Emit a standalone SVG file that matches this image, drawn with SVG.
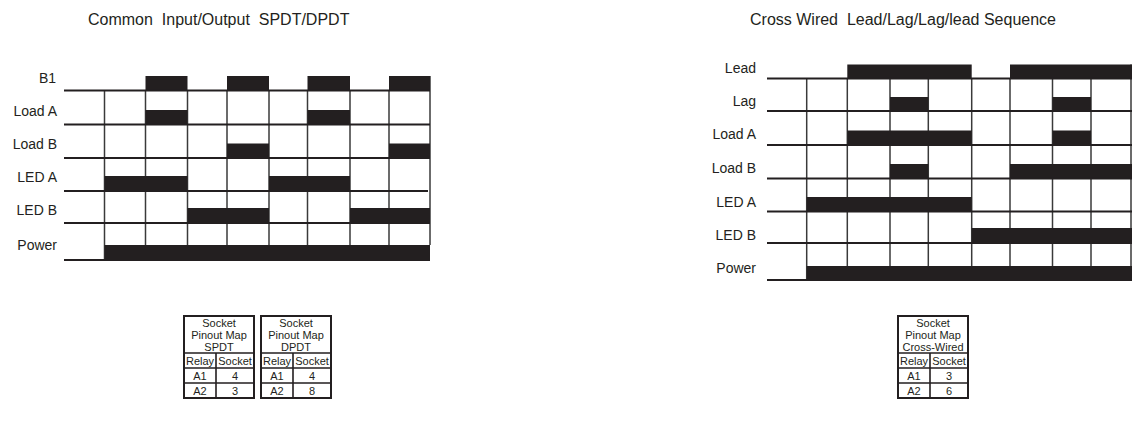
<svg xmlns="http://www.w3.org/2000/svg" width="1134" height="429" viewBox="0 0 1134 429">
<style>
text{font-family:"Liberation Sans",Arial,sans-serif;fill:#231f20}
.title{font-size:16px;white-space:pre}
.lbl{font-size:14px;text-anchor:end}
.tb{font-size:11px;text-anchor:middle}
.base{stroke:#231f20;stroke-width:2;fill:none}
.vert{stroke:#3a3a3a;stroke-width:1.5;fill:none}
.blk{fill:#231f20}
.tbl{stroke:#231f20;stroke-width:2;fill:#fff}
.tln{stroke:#231f20;stroke-width:1.6;fill:none}
</style>
<rect width="1134" height="429" fill="#fff"/>
<text class="title" x="88" y="25">Common  Input/Output  SPDT/DPDT</text>
<text class="title" x="750" y="25">Cross Wired  Lead/Lag/Lag/lead Sequence</text>

<g id="chart-left">
<g class="labels">
<text class="lbl" x="56" y="83">B1</text>
<text class="lbl" x="57" y="116">Load A</text>
<text class="lbl" x="57" y="149">Load B</text>
<text class="lbl" x="57" y="182">LED A</text>
<text class="lbl" x="57" y="215">LED B</text>
<text class="lbl" x="57" y="250">Power</text>
</g>
<g class="vert">
<line x1="104.5" y1="90.5" x2="104.5" y2="260"/>
<line x1="145.5" y1="90.5" x2="145.5" y2="245"/>
<line x1="187.5" y1="90.5" x2="187.5" y2="245"/>
<line x1="227" y1="90.5" x2="227" y2="245"/>
<line x1="269" y1="90.5" x2="269" y2="245"/>
<line x1="307.5" y1="90.5" x2="307.5" y2="245"/>
<line x1="350" y1="90.5" x2="350" y2="245"/>
<line x1="389" y1="90.5" x2="389" y2="245"/>
<line x1="430" y1="76" x2="430" y2="245"/>
</g>
<g class="blk">
<rect x="145.5" y="76" width="42" height="14.5"/>
<rect x="227" y="76" width="42" height="14.5"/>
<rect x="307.5" y="76" width="42.5" height="14.5"/>
<rect x="389" y="76" width="41" height="14.5"/>
<rect x="145.5" y="110" width="42" height="14.5"/>
<rect x="307.5" y="110" width="42.5" height="14.5"/>
<rect x="227" y="143.5" width="42" height="14.5"/>
<rect x="389" y="143.5" width="41" height="14.5"/>
<rect x="104.5" y="176" width="83" height="15"/>
<rect x="269" y="176" width="81" height="15"/>
<rect x="187.5" y="208" width="81.5" height="15"/>
<rect x="350" y="208" width="80" height="15"/>
<rect x="104.5" y="245" width="325.5" height="15"/>
</g>
<g class="base">
<line x1="64" y1="90.5" x2="430" y2="90.5"/>
<line x1="64" y1="124.5" x2="430" y2="124.5"/>
<line x1="64" y1="158" x2="430" y2="158"/>
<line x1="64" y1="191" x2="428" y2="191"/>
<line x1="64" y1="223" x2="430" y2="223"/>
<line x1="64" y1="260" x2="430" y2="260"/>
</g>
</g>

<g id="chart-right">
<g class="labels">
<text class="lbl" x="756" y="72.5">Lead</text>
<text class="lbl" x="756" y="106">Lag</text>
<text class="lbl" x="756" y="139">Load A</text>
<text class="lbl" x="756" y="173">Load B</text>
<text class="lbl" x="756" y="206.5">LED A</text>
<text class="lbl" x="756" y="240">LED B</text>
<text class="lbl" x="756" y="273">Power</text>
</g>
<g class="vert">
<line x1="806.7" y1="78.5" x2="806.7" y2="280"/>
<line x1="847.3" y1="78.5" x2="847.3" y2="266"/>
<line x1="890" y1="78.5" x2="890" y2="266"/>
<line x1="928.3" y1="78.5" x2="928.3" y2="266"/>
<line x1="971.7" y1="78.5" x2="971.7" y2="266"/>
<line x1="1010" y1="78.5" x2="1010" y2="266"/>
<line x1="1052.5" y1="78.5" x2="1052.5" y2="266"/>
<line x1="1091" y1="78.5" x2="1091" y2="266"/>
<line x1="1131" y1="64.5" x2="1131" y2="266"/>
</g>
<g class="blk">
<rect x="847.3" y="64.5" width="124.4" height="14"/>
<rect x="1010" y="64.5" width="122" height="14"/>
<rect x="890" y="97" width="38.3" height="14"/>
<rect x="1052.5" y="97" width="38.5" height="14"/>
<rect x="847.3" y="130.5" width="124.4" height="14.5"/>
<rect x="1052.5" y="130.5" width="38.5" height="14.5"/>
<rect x="890" y="164" width="38.3" height="14.5"/>
<rect x="1010" y="164" width="122" height="14.5"/>
<rect x="806.7" y="197" width="165" height="14.5"/>
<rect x="971.7" y="228" width="160.3" height="15"/>
<rect x="806.7" y="266" width="325.3" height="14"/>
</g>
<g class="base">
<line x1="767" y1="78.5" x2="1132" y2="78.5"/>
<line x1="767" y1="111" x2="1132" y2="111"/>
<line x1="767" y1="145" x2="1132" y2="145"/>
<line x1="767" y1="178.5" x2="1132" y2="178.5"/>
<line x1="767" y1="211.5" x2="1132" y2="211.5"/>
<line x1="767" y1="243" x2="1132" y2="243"/>
<line x1="767" y1="280" x2="1132" y2="280"/>
</g>
</g>

<g id="table-spdt">
<rect class="tbl" x="184" y="316" width="70" height="82"/>
<path class="tln" d="M184 353H254M184 368H254M184 383H254M216 353V398"/>
<text class="tb" x="219" y="327">Socket</text>
<text class="tb" x="219" y="339">Pinout Map</text>
<text class="tb" x="219" y="351">SPDT</text>
<text class="tb" x="200" y="364.5">Relay</text>
<text class="tb" x="235" y="364.5">Socket</text>
<text class="tb" x="200" y="379.5">A1</text>
<text class="tb" x="235" y="379.5">4</text>
<text class="tb" x="200" y="394.5">A2</text>
<text class="tb" x="235" y="394.5">3</text>
</g>

<g id="table-dpdt">
<rect class="tbl" x="261" y="316" width="70" height="82"/>
<path class="tln" d="M261 353H331M261 368H331M261 383H331M293 353V398"/>
<text class="tb" x="296" y="327">Socket</text>
<text class="tb" x="296" y="339">Pinout Map</text>
<text class="tb" x="296" y="351">DPDT</text>
<text class="tb" x="277" y="364.5">Relay</text>
<text class="tb" x="312" y="364.5">Socket</text>
<text class="tb" x="277" y="379.5">A1</text>
<text class="tb" x="312" y="379.5">4</text>
<text class="tb" x="277" y="394.5">A2</text>
<text class="tb" x="312" y="394.5">8</text>
</g>

<g id="table-cross">
<rect class="tbl" x="898" y="316" width="70" height="82"/>
<path class="tln" d="M898 353H968M898 368H968M898 383H968M930 353V398"/>
<text class="tb" x="933" y="327">Socket</text>
<text class="tb" x="933" y="339">Pinout Map</text>
<text class="tb" x="933" y="351">Cross-Wired</text>
<text class="tb" x="914" y="364.5">Relay</text>
<text class="tb" x="949" y="364.5">Socket</text>
<text class="tb" x="914" y="379.5">A1</text>
<text class="tb" x="949" y="379.5">3</text>
<text class="tb" x="914" y="394.5">A2</text>
<text class="tb" x="949" y="394.5">6</text>
</g>
</svg>
